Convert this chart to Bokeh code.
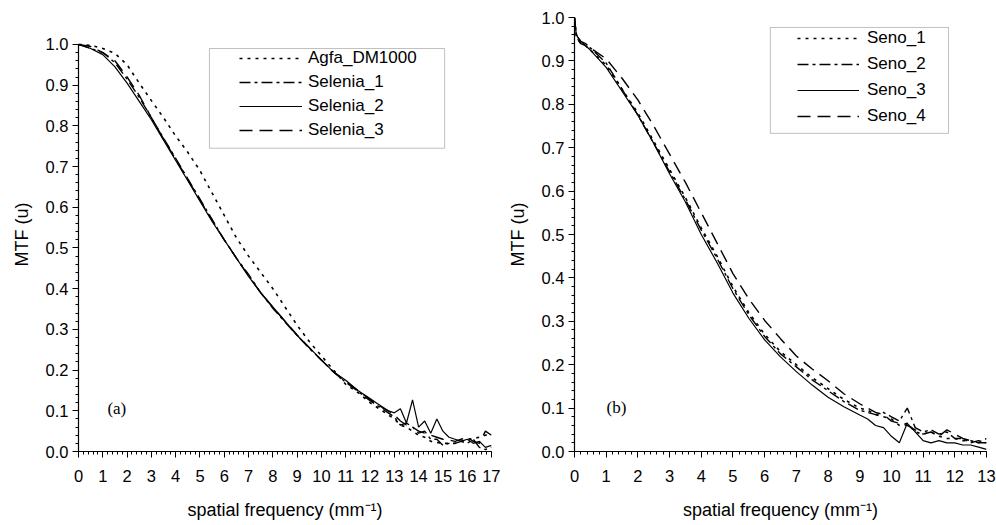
import numpy as np
from bokeh.plotting import figure
from bokeh.layouts import row
from bokeh.models import (Range1d, FixedTicker, NumeralTickFormatter, Legend,
                          LegendItem, BoxAnnotation, Label)
from bokeh.embed import file_html
from bokeh.resources import INLINE

# ---------------- data: panel (a) ----------------
freq_a = [0, 0.5, 1, 1.5, 2, 2.5, 3, 3.5, 4, 4.5, 5, 5.5, 6, 6.5, 7, 7.5, 8, 8.5, 9, 9.5,
          10, 10.5, 11, 11.5, 12, 12.25, 12.5, 12.75, 13, 13.25, 13.5, 13.75, 14, 14.25,
          14.5, 14.75, 15, 15.25, 15.5, 15.75, 16, 16.25, 16.5, 16.75, 17]
agfa_dm1000 = [1.0, 0.998, 0.99, 0.978, 0.95, 0.905, 0.862, 0.82, 0.775, 0.735, 0.69, 0.635,
               0.58, 0.525, 0.48, 0.44, 0.40, 0.355, 0.31, 0.27, 0.235, 0.2, 0.165, 0.145,
               0.12, 0.11, 0.1, 0.09, 0.08, 0.065, 0.06, 0.05, 0.04, 0.035, 0.025, 0.022,
               0.02, 0.02, 0.02, 0.025, 0.03, 0.032, 0.035, 0.04, 0.045]
selenia_1 = [1.0, 0.99, 0.98, 0.955, 0.915, 0.87, 0.82, 0.77, 0.72, 0.67, 0.62, 0.57, 0.52,
             0.475, 0.435, 0.39, 0.352, 0.318, 0.285, 0.253, 0.225, 0.195, 0.17, 0.148,
             0.125, 0.115, 0.105, 0.095, 0.085, 0.065, 0.07, 0.06, 0.045, 0.05, 0.03, 0.03,
             0.015, 0.02, 0.02, 0.025, 0.02, 0.03, 0.01, 0.005, 0.01]
selenia_2 = [1.0, 0.99, 0.975, 0.945, 0.905, 0.86, 0.815, 0.765, 0.715, 0.665, 0.615, 0.565,
             0.52, 0.475, 0.43, 0.39, 0.355, 0.32, 0.285, 0.255, 0.225, 0.195, 0.175, 0.15,
             0.13, 0.12, 0.11, 0.1, 0.095, 0.105, 0.07, 0.127, 0.06, 0.075, 0.045, 0.08,
             0.05, 0.035, 0.03, 0.025, 0.03, 0.02, 0.025, 0.01, 0.015]
selenia_3 = [1.0, 0.995, 0.98, 0.96, 0.92, 0.875, 0.82, 0.768, 0.718, 0.668, 0.618, 0.568,
             0.52, 0.475, 0.432, 0.39, 0.354, 0.32, 0.286, 0.255, 0.224, 0.196, 0.172, 0.15,
             0.128, 0.118, 0.108, 0.1, 0.09, 0.075, 0.065, 0.06, 0.05, 0.045, 0.04, 0.035,
             0.03, 0.028, 0.025, 0.03, 0.035, 0.025, 0.02, 0.05, 0.04]

# ---------------- data: panel (b) ----------------
freq_b = [0, 0.05, 0.1, 0.2, 0.35, 0.5, 1, 1.5, 2, 2.5, 3, 3.5, 4, 4.5, 5, 5.5, 6, 6.5, 7,
          7.5, 8, 8.5, 9, 9.25, 9.5, 9.75, 10, 10.25, 10.5, 10.75, 11, 11.25, 11.5, 11.75,
          12, 12.25, 12.5, 12.75, 13]
seno_1 = [1.0, 0.96, 0.95, 0.94, 0.935, 0.925, 0.89, 0.835, 0.78, 0.715, 0.65, 0.585, 0.515,
          0.45, 0.38, 0.32, 0.27, 0.23, 0.2, 0.17, 0.145, 0.12, 0.1, 0.095, 0.085, 0.08,
          0.075, 0.06, 0.065, 0.045, 0.04, 0.045, 0.035, 0.03, 0.03, 0.025, 0.025, 0.02, 0.03]
seno_2 = [1.0, 0.96, 0.95, 0.94, 0.935, 0.93, 0.895, 0.835, 0.775, 0.71, 0.645, 0.58, 0.51,
          0.445, 0.375, 0.315, 0.265, 0.225, 0.195, 0.165, 0.14, 0.115, 0.095, 0.09, 0.085,
          0.09, 0.08, 0.07, 0.1, 0.055, 0.045, 0.05, 0.04, 0.045, 0.03, 0.03, 0.02, 0.025, 0.02]
seno_3 = [1.0, 0.965, 0.955, 0.945, 0.935, 0.925, 0.885, 0.83, 0.775, 0.71, 0.64, 0.575, 0.50,
          0.435, 0.365, 0.307, 0.257, 0.218, 0.184, 0.153, 0.125, 0.103, 0.084, 0.075, 0.06,
          0.055, 0.035, 0.02, 0.065, 0.045, 0.025, 0.02, 0.025, 0.02, 0.02, 0.015, 0.015,
          0.01, 0.005]
seno_4 = [1.0, 0.965, 0.955, 0.945, 0.94, 0.93, 0.905, 0.86, 0.81, 0.75, 0.685, 0.62, 0.55,
          0.48, 0.41, 0.352, 0.302, 0.26, 0.22, 0.19, 0.163, 0.133, 0.11, 0.1, 0.09, 0.085,
          0.07, 0.065, 0.06, 0.05, 0.04, 0.045, 0.035, 0.05, 0.04, 0.03, 0.025, 0.02, 0.02]

series_a = [("Agfa_DM1000", agfa_dm1000), ("Selenia_1", selenia_1),
            ("Selenia_2", selenia_2), ("Selenia_3", selenia_3)]
series_b = [("Seno_1", seno_1), ("Seno_2", seno_2), ("Seno_3", seno_3), ("Seno_4", seno_4)]

DASHES = ["3 5", "11 4 3 4", "solid", "13 7"]
WIDTHS = [1.6, 1.4, 1.2, 1.4]
FONT = "Liberation Sans"


def style_axes(p, xmax, ytop):
    p.x_range = Range1d(0, xmax)
    p.y_range = Range1d(0, ytop)
    p.xaxis.ticker = FixedTicker(ticks=list(range(0, xmax + 1)),
                                 minor_ticks=list(np.round(np.arange(0, xmax + 0.001, 0.2), 2)))
    p.yaxis.ticker = FixedTicker(ticks=list(np.round(np.arange(0, 1.001, 0.1), 2)),
                                 minor_ticks=list(np.round(np.arange(0, 1.001, 0.02), 2)))
    p.yaxis.formatter = NumeralTickFormatter(format="0.0")
    p.yaxis.bounds = (0, 1.0)
    for ax in (p.xaxis, p.yaxis):
        ax.axis_line_color = "black"
        ax.axis_line_width = 1.2
        ax.major_tick_line_color = "black"
        ax.minor_tick_line_color = "black"
        ax.major_tick_in = 0
        ax.major_tick_out = 6
        ax.minor_tick_in = 0
        ax.minor_tick_out = 3
        ax.major_label_text_font = FONT
        ax.major_label_text_font_size = "16.5px"
        ax.major_label_text_color = "black"
        ax.axis_label_text_font = FONT
        ax.axis_label_text_font_size = "18px"
        ax.axis_label_text_font_style = "normal"
        ax.axis_label_text_color = "black"
    p.xaxis.axis_label = "spatial frequency (mm\u207b\u00b9)"
    p.yaxis.axis_label = "MTF (u)"
    p.xaxis.major_label_standoff = 12
    p.xaxis.axis_label_standoff = 15
    p.yaxis.major_label_standoff = 4
    p.yaxis.axis_label_standoff = 11
    p.xgrid.visible = False
    p.ygrid.visible = False
    p.outline_line_color = None


def make_panel(freq, series, xmax, ytop, width, mb, legend_loc, row_h, gw, standoff, box,
               tag, tag_xy):
    p = figure(width=width, height=522, output_backend="svg", toolbar_location=None,
               min_border_left=mb[0], min_border_right=mb[1], min_border_top=mb[2],
               min_border_bottom=mb[3])
    style_axes(p, xmax, ytop)
    items = []
    for (name, vals), dash, lw in zip(series, DASHES, WIDTHS):
        r = p.line(freq, vals, line_color="black", line_width=lw, line_dash=dash)
        items.append(LegendItem(label=name, renderers=[r]))
    leg = Legend(items=items, location=legend_loc, margin=0, padding=0,
                 border_line_alpha=0, background_fill_alpha=0,
                 glyph_width=gw, glyph_height=row_h, label_height=row_h, spacing=4,
                 label_standoff=standoff, label_text_font=FONT,
                 label_text_font_size="17px", label_text_color="black")
    p.add_layout(leg, "center")
    p.add_layout(BoxAnnotation(left=box[0], right=box[1], top=box[2], bottom=box[3],
                               fill_alpha=0, line_color="#333333", line_width=1))
    p.add_layout(Label(x=tag_xy[0], y=tag_xy[1], text=tag, text_font="Liberation Serif",
                       text_font_size="17px", text_baseline="middle", text_color="black"))
    return p


pa = make_panel(freq_a, series_a, 17, 435 / 408, 500, (78, 9, 17, 70), (161, 311), 20, 63, 6,
                (5.39, 15.07, 0.990, 0.745), "(a)", (1.19, 0.105))
pb = make_panel(freq_b, series_b, 13, 1.0, 496, (74, 10, 17, 70), (223, 324), 22, 62, 8,
                (6.18, 11.80, 0.977, 0.733), "(b)", (1.01, 0.101))

layout = row(pa, pb)
open("out.html", "w").write(file_html(layout, INLINE))
